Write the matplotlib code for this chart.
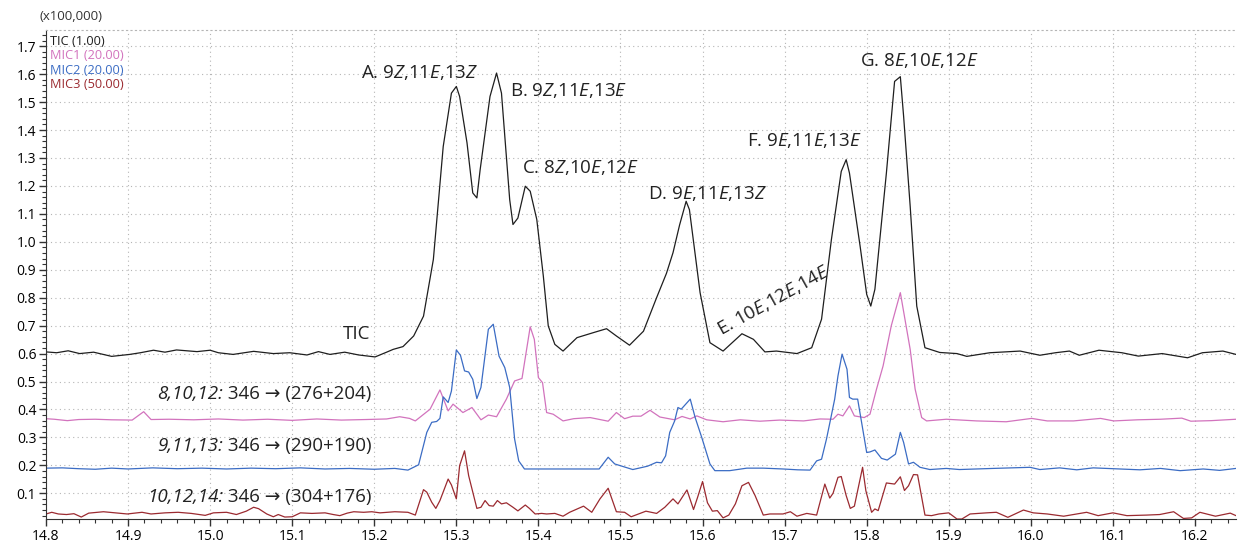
import matplotlib
matplotlib.use('Agg')
import matplotlib.pyplot as plt
from matplotlib.ticker import MultipleLocator

# chromatogram traces (retention time in min, intensity x100,000)
tic_t = [14.800, 14.813, 14.827, 14.841, 14.858, 14.880, 14.902, 14.915, 14.931, 14.945,
         14.959, 14.984, 15.000, 15.010, 15.028, 15.053, 15.077, 15.097, 15.118, 15.132,
         15.146, 15.164, 15.181, 15.201, 15.215, 15.223, 15.235, 15.248, 15.260, 15.272,
         15.284, 15.294, 15.300, 15.304, 15.313, 15.320, 15.325, 15.329, 15.341, 15.349,
         15.355, 15.365, 15.369, 15.375, 15.384, 15.390, 15.398, 15.406, 15.412, 15.420,
         15.430, 15.447, 15.467, 15.483, 15.495, 15.511, 15.528, 15.544, 15.556, 15.564,
         15.572, 15.580, 15.584, 15.597, 15.609, 15.625, 15.648, 15.662, 15.676, 15.690,
         15.715, 15.733, 15.745, 15.757, 15.769, 15.775, 15.779, 15.792, 15.800, 15.805,
         15.810, 15.824, 15.834, 15.841, 15.845, 15.853, 15.861, 15.871, 15.889, 15.910,
         15.922, 15.950, 15.987, 16.011, 16.030, 16.047, 16.059, 16.083, 16.111, 16.131,
         16.160, 16.191, 16.209, 16.234, 16.250]
tic_y = [0.606, 0.603, 0.610, 0.600, 0.605, 0.590, 0.597, 0.603, 0.612, 0.605,
         0.613, 0.607, 0.612, 0.603, 0.597, 0.608, 0.600, 0.603, 0.595, 0.607,
         0.597, 0.605, 0.595, 0.588, 0.605, 0.615, 0.625, 0.663, 0.734, 0.937,
         1.341, 1.532, 1.556, 1.520, 1.354, 1.175, 1.157, 1.258, 1.520, 1.604,
         1.532, 1.151, 1.062, 1.085, 1.199, 1.181, 1.080, 0.877, 0.699, 0.633,
         0.609, 0.657, 0.675, 0.689, 0.663, 0.630, 0.680, 0.800, 0.887, 0.961,
         1.060, 1.145, 1.115, 0.818, 0.639, 0.609, 0.671, 0.651, 0.606, 0.609,
         0.600, 0.621, 0.723, 1.008, 1.252, 1.294, 1.246, 0.984, 0.812, 0.770,
         0.830, 1.246, 1.574, 1.591, 1.449, 1.127, 0.770, 0.621, 0.604, 0.600,
         0.590, 0.603, 0.609, 0.594, 0.603, 0.609, 0.594, 0.612, 0.603, 0.591,
         0.600, 0.585, 0.603, 0.609, 0.597]

mic1_t = [14.800, 14.810, 14.826, 14.840, 14.860, 14.880, 14.905, 14.919, 14.928, 14.950,
          14.980, 15.010, 15.040, 15.070, 15.100, 15.130, 15.160, 15.190, 15.215, 15.231,
          15.243, 15.250, 15.268, 15.280, 15.290, 15.296, 15.308, 15.319, 15.330, 15.339,
          15.349, 15.361, 15.371, 15.380, 15.390, 15.395, 15.400, 15.405, 15.410, 15.418,
          15.430, 15.443, 15.463, 15.485, 15.495, 15.505, 15.515, 15.525, 15.536, 15.548,
          15.566, 15.575, 15.585, 15.593, 15.605, 15.625, 15.646, 15.670, 15.694, 15.723,
          15.743, 15.759, 15.765, 15.771, 15.779, 15.785, 15.797, 15.804, 15.812, 15.820,
          15.830, 15.841, 15.853, 15.859, 15.867, 15.873, 15.897, 15.934, 15.970, 16.001,
          16.020, 16.052, 16.085, 16.101, 16.130, 16.158, 16.184, 16.195, 16.220, 16.250]
mic1_y = [0.367, 0.365, 0.360, 0.364, 0.365, 0.363, 0.362, 0.392, 0.364, 0.365,
          0.363, 0.366, 0.362, 0.365, 0.361, 0.366, 0.362, 0.364, 0.366, 0.374,
          0.368, 0.359, 0.401, 0.470, 0.395, 0.419, 0.389, 0.407, 0.363, 0.380,
          0.374, 0.437, 0.502, 0.511, 0.696, 0.651, 0.514, 0.496, 0.389, 0.383,
          0.359, 0.367, 0.371, 0.358, 0.389, 0.367, 0.376, 0.376, 0.397, 0.373,
          0.363, 0.375, 0.366, 0.377, 0.363, 0.356, 0.363, 0.358, 0.362, 0.359,
          0.366, 0.365, 0.383, 0.377, 0.413, 0.377, 0.371, 0.383, 0.473, 0.556,
          0.700, 0.818, 0.615, 0.473, 0.371, 0.359, 0.365, 0.359, 0.356, 0.368,
          0.359, 0.359, 0.368, 0.359, 0.363, 0.365, 0.369, 0.358, 0.360, 0.365]

mic2_t = [14.800, 14.820, 14.840, 14.860, 14.880, 14.900, 14.930, 14.960, 14.990, 15.020,
          15.050, 15.080, 15.110, 15.140, 15.170, 15.200, 15.225, 15.241, 15.254, 15.264,
          15.270, 15.276, 15.280, 15.284, 15.290, 15.294, 15.300, 15.305, 15.310, 15.315,
          15.320, 15.325, 15.330, 15.339, 15.345, 15.352, 15.359, 15.365, 15.371, 15.376,
          15.383, 15.401, 15.426, 15.452, 15.474, 15.485, 15.493, 15.515, 15.533, 15.544,
          15.550, 15.555, 15.560, 15.566, 15.570, 15.574, 15.585, 15.591, 15.599, 15.609,
          15.615, 15.633, 15.654, 15.674, 15.698, 15.716, 15.731, 15.739, 15.745, 15.751,
          15.756, 15.761, 15.765, 15.770, 15.776, 15.779, 15.783, 15.789, 15.800, 15.804,
          15.810, 15.818, 15.825, 15.835, 15.841, 15.845, 15.851, 15.857, 15.865, 15.877,
          15.897, 15.913, 15.954, 15.999, 16.011, 16.035, 16.056, 16.076, 16.133, 16.158,
          16.182, 16.210, 16.230, 16.250]
mic2_y = [0.190, 0.191, 0.188, 0.186, 0.190, 0.187, 0.191, 0.188, 0.190, 0.187,
          0.190, 0.188, 0.191, 0.187, 0.189, 0.186, 0.189, 0.183, 0.202, 0.318,
          0.354, 0.357, 0.368, 0.445, 0.425, 0.466, 0.613, 0.594, 0.538, 0.534,
          0.508, 0.439, 0.479, 0.687, 0.705, 0.591, 0.550, 0.479, 0.294, 0.216,
          0.187, 0.187, 0.187, 0.187, 0.187, 0.229, 0.205, 0.185, 0.197, 0.211,
          0.209, 0.234, 0.318, 0.359, 0.407, 0.401, 0.437, 0.371, 0.300, 0.205,
          0.181, 0.181, 0.190, 0.190, 0.187, 0.184, 0.183, 0.216, 0.222, 0.294,
          0.365, 0.437, 0.520, 0.598, 0.544, 0.443, 0.437, 0.437, 0.246, 0.248,
          0.255, 0.225, 0.219, 0.240, 0.318, 0.282, 0.205, 0.211, 0.193, 0.185,
          0.189, 0.185, 0.189, 0.193, 0.185, 0.191, 0.184, 0.191, 0.184, 0.189,
          0.181, 0.187, 0.182, 0.189]

mic3_t = [14.800, 14.807, 14.815, 14.825, 14.834, 14.843, 14.852, 14.870, 14.885, 14.899,
          14.917, 14.928, 14.945, 14.961, 14.977, 14.994, 15.004, 15.020, 15.032, 15.044,
          15.053, 15.059, 15.069, 15.077, 15.083, 15.091, 15.100, 15.110, 15.124, 15.140,
          15.150, 15.158, 15.167, 15.175, 15.187, 15.197, 15.207, 15.225, 15.241, 15.250,
          15.260, 15.264, 15.270, 15.275, 15.280, 15.290, 15.294, 15.300, 15.304, 15.310,
          15.315, 15.320, 15.325, 15.330, 15.335, 15.340, 15.345, 15.350, 15.355, 15.361,
          15.369, 15.375, 15.384, 15.389, 15.396, 15.404, 15.410, 15.420, 15.430, 15.438,
          15.455, 15.465, 15.475, 15.485, 15.495, 15.505, 15.513, 15.531, 15.544, 15.554,
          15.564, 15.570, 15.581, 15.589, 15.594, 15.600, 15.606, 15.612, 15.618, 15.625,
          15.632, 15.640, 15.648, 15.656, 15.664, 15.674, 15.682, 15.698, 15.707, 15.715,
          15.727, 15.739, 15.749, 15.755, 15.759, 15.765, 15.769, 15.775, 15.780, 15.785,
          15.795, 15.799, 15.806, 15.810, 15.814, 15.824, 15.834, 15.841, 15.846, 15.851,
          15.857, 15.862, 15.871, 15.879, 15.888, 15.900, 15.910, 15.916, 15.926, 15.946,
          15.958, 15.972, 15.991, 16.003, 16.020, 16.040, 16.068, 16.082, 16.100, 16.117,
          16.141, 16.157, 16.174, 16.186, 16.196, 16.206, 16.225, 16.243, 16.250]
mic3_y = [0.026, 0.032, 0.026, 0.024, 0.027, 0.015, 0.029, 0.034, 0.030, 0.026,
          0.032, 0.026, 0.030, 0.032, 0.028, 0.021, 0.030, 0.032, 0.024, 0.036,
          0.050, 0.045, 0.026, 0.016, 0.024, 0.015, 0.016, 0.030, 0.028, 0.030,
          0.024, 0.020, 0.029, 0.034, 0.032, 0.034, 0.030, 0.034, 0.032, 0.022,
          0.113, 0.104, 0.068, 0.046, 0.074, 0.151, 0.130, 0.080, 0.199, 0.252,
          0.163, 0.104, 0.046, 0.050, 0.074, 0.056, 0.054, 0.074, 0.062, 0.066,
          0.050, 0.037, 0.058, 0.046, 0.026, 0.028, 0.026, 0.028, 0.018, 0.032,
          0.054, 0.032, 0.080, 0.118, 0.034, 0.032, 0.016, 0.036, 0.028, 0.050,
          0.080, 0.062, 0.112, 0.042, 0.086, 0.142, 0.066, 0.036, 0.038, 0.012,
          0.022, 0.062, 0.127, 0.139, 0.092, 0.022, 0.026, 0.026, 0.034, 0.018,
          0.028, 0.022, 0.133, 0.083, 0.100, 0.157, 0.160, 0.092, 0.046, 0.054,
          0.193, 0.109, 0.032, 0.044, 0.038, 0.137, 0.133, 0.159, 0.110, 0.127,
          0.167, 0.166, 0.022, 0.020, 0.026, 0.030, 0.008, 0.008, 0.026, 0.030,
          0.032, 0.014, 0.040, 0.030, 0.026, 0.018, 0.032, 0.020, 0.030, 0.020,
          0.022, 0.024, 0.034, 0.010, 0.012, 0.032, 0.018, 0.029, 0.020]

legend_labels = ['TIC (1.00)', 'MIC1 (20.00)', 'MIC2 (20.00)', 'MIC3 (50.00)']
trace_colors = ['#1e1e1e', '#d273bd', '#3b6cc4', '#9b2a30']

# peak labels: (text, t, y, rotation)
peak_labels = [
    (r'A. 9$\mathit{Z}$,11$\mathit{E}$,13$\mathit{Z}$', 15.255, 1.607, 0),
    (r'B. 9$\mathit{Z}$,11$\mathit{E}$,13$\mathit{E}$', 15.437, 1.542, 0),
    (r'C. 8$\mathit{Z}$,10$\mathit{E}$,12$\mathit{E}$', 15.451, 1.267, 0),
    (r'D. 9$\mathit{E}$,11$\mathit{E}$,13$\mathit{Z}$', 15.606, 1.174, 0),
    (r'E. 10$\mathit{E}$,12$\mathit{E}$,14$\mathit{E}$', 15.687, 0.792, 29),
    (r'F. 9$\mathit{E}$,11$\mathit{E}$,13$\mathit{E}$', 15.724, 1.364, 0),
    (r'G. 8$\mathit{E}$,10$\mathit{E}$,12$\mathit{E}$', 15.864, 1.650, 0),
]
# MIC trace labels: italic isomer part + transition
trace_iso = ['8,10,12:', '9,11,13:', '10,12,14:']
trace_ions = [' 346 → (276+204)', ' 346 → (290+190)', ' 346 → (304+176)']
trace_label_y = [0.454, 0.269, 0.086]

plt.rcParams['font.family'] = ['Open Sans', 'DejaVu Sans']
plt.rcParams['mathtext.fontset'] = 'custom'
plt.rcParams['mathtext.rm'] = 'Open Sans'
plt.rcParams['mathtext.it'] = 'Open Sans:italic'

fig = plt.figure(figsize=(12.38, 5.43), dpi=100)
ax = fig.add_axes([46 / 1238, 24 / 543, 1190 / 1238, 489 / 543])

series = [(tic_t, tic_y), (mic1_t, mic1_y), (mic2_t, mic2_y), (mic3_t, mic3_y)]
for (t, y), c in zip(series, trace_colors):
    ax.plot(t, y, color=c, lw=0.9)

ax.set_xlim(14.8, 16.25)
ax.set_ylim(0.008, 1.758)
ax.xaxis.set_major_locator(MultipleLocator(0.1))
ax.xaxis.set_minor_locator(MultipleLocator(0.02))
ax.yaxis.set_major_locator(MultipleLocator(0.1))
ax.yaxis.set_minor_locator(MultipleLocator(0.02))
ax.set_yticks([round(0.1 * i, 1) for i in range(1, 18)])
ax.tick_params(which='major', direction='out', length=5, width=1.0, labelsize=10, color='#333333', pad=2)
ax.tick_params(which='minor', direction='out', length=3, width=0.8, color='#333333')
ax.grid(True, which='major', color='#b5b5b5', lw=0.8, linestyle=(0, (1, 3)))
ax.spines['right'].set_visible(False)
ax.spines['top'].set_linestyle((0, (1, 3)))
ax.spines['top'].set_color('#b5b5b5')
ax.spines['left'].set_color('#333333')
ax.spines['bottom'].set_color('#333333')

for i, (lab, c) in enumerate(zip(legend_labels, trace_colors)):
    ax.text(0.003, 0.99 - i * 0.0295, lab, color=c, fontsize=9.2, transform=ax.transAxes, va='top', ha='left')

fig.text(40 / 1238, 1 - 17 / 543, '(x100,000)', fontsize=9.5, color='#333333', va='center', ha='left')

for txt, t, y, rot in peak_labels:
    ax.text(t, y, txt, fontsize=13.5, ha='center', va='center', rotation=rot,
            rotation_mode='anchor', color='#222222')

ax.text(15.178, 0.669, 'TIC', fontsize=13.5, ha='center', va='center', color='#222222')
for iso, ions, y in zip(trace_iso, trace_ions, trace_label_y):
    tail = ax.text(15.197, y, ions, fontsize=13.5, ha='right', va='center', color='#222222')
    ax.annotate(iso, xy=(0, 0.5), xycoords=tail, fontsize=13.5, style='italic',
                ha='right', va='center', color='#222222')

fig.savefig('out.png', dpi=100)
